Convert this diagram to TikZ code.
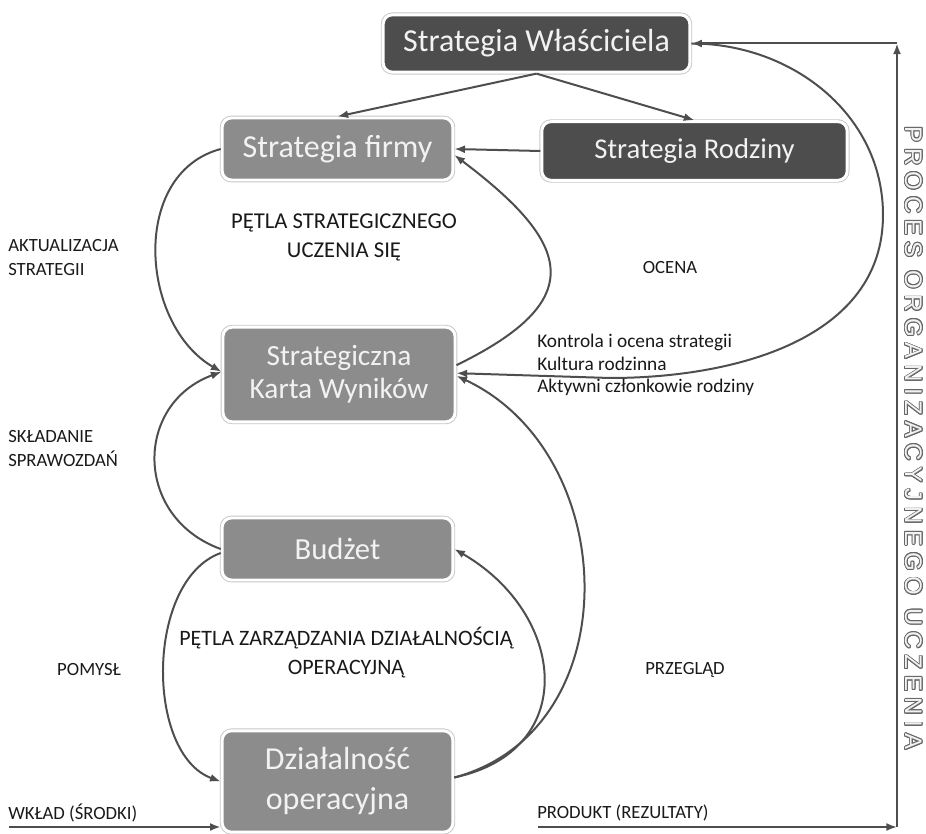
\documentclass[tikz,border=0pt]{standalone}
\usepackage{fontspec}
\setmainfont{Carlito}
\newfontfamily\procfont[LetterSpace=25]{Liberation Sans}
\usepackage{xcolor}
\usepackage{contour}
\usepackage{tikz}
\usetikzlibrary{arrows.meta,calc}
\definecolor{ciemny}{RGB}{77,77,77}
\definecolor{sredni}{RGB}{140,140,140}
\definecolor{linia}{RGB}{78,78,78}
\definecolor{jasny}{RGB}{242,242,242}
\contourlength{0.7pt}

\begin{document}
\begin{tikzpicture}[x=0.75pt,y=-0.75pt,
  blok/.style={rounded corners=7pt,draw=white,line width=2.2pt,text=jasny,align=center,inner sep=2pt,
    preaction={draw=black!22,line width=3.6pt}},
  pol/.style={draw=linia,line width=1.5pt,-{Latex[length=8pt,width=6pt]}},
  opis/.style={inner sep=0pt,text=black!90,font=\fontsize{14pt}{18pt}\selectfont}]
\useasboundingbox (0,0) rectangle (926,834);

% bloki
\node[blok,fill=ciemny,minimum width=230pt,minimum height=43pt,font=\fontsize{24pt}{28pt}\selectfont]
  (wl) at (536.5,43.5) {Strategia Właściciela};
\node[blok,fill=sredni,minimum width=173pt,minimum height=46.5pt,font=\fontsize{24pt}{28pt}\selectfont]
  (sf) at (337.5,149) {Strategia firmy};
\node[blok,fill=ciemny,minimum width=229pt,minimum height=44pt,font=\fontsize{21.5pt}{26pt}\selectfont]
  (sr) at (694.5,151) {Strategia Rodziny};
\node[blok,fill=sredni,minimum width=174pt,minimum height=71pt,font=\fontsize{22pt}{25pt}\selectfont]
  (kw) at (339,374.5) {Strategiczna\\Karta Wyników};
\node[blok,fill=sredni,minimum width=173pt,minimum height=46.5pt,font=\fontsize{23pt}{27pt}\selectfont]
  (bu) at (337.5,549) {Budżet};
\node[blok,fill=sredni,minimum width=173pt,minimum height=76pt,font=\fontsize{24pt}{30pt}\selectfont]
  (do) at (337.5,781.5) {Działalność\\operacyjna};

% punkty pomocnicze
\coordinate (ko) at (883,215);
\coordinate (kd) at (610,378);
\coordinate (pr) at (538,827);
\coordinate (rg) at (897,827);
\coordinate (gr) at (rg |- wl.east);
\coordinate (wk) at (9,827);

% strzalki
\draw[pol] (wl.south) -- (sf.north);
\draw[pol] (wl.south) -- (sr.north);
\draw[pol] (sr.west) -- (sf.east);
\draw[pol] (sf.west) to[out=195,in=150,looseness=1.08] ([yshift=2pt]kw.west);
\draw[pol] (bu.west) to[out=160,in=200,looseness=1.34] ([yshift=2pt]kw.west);
\draw[pol] ([yshift=-3pt]bu.west) to[out=200,in=160,looseness=0.9] (do.west);
\draw[pol] ([yshift=7pt]kw.east) to[out=26,in=-37,looseness=1.8] ([yshift=-4.5pt]sf.east);
\draw[pol] ([yshift=3pt]do.east) to[out=12,in=-30,looseness=1.45] (bu.east);
\draw[pol] ([yshift=3pt]do.east) to[out=15,in=-25,looseness=1.16] ([yshift=-1pt]kw.east);
\draw[pol] (wl.east) to[out=0,in=90] (ko) to[out=-90,in=0] (kd) -- ([yshift=1pt]kw.east);
\draw[pol] (pr) -- (rg);
\draw[pol] (rg) -- (gr);
\draw[pol] (gr) -- (wl.east);
\draw[pol] (wk) -- (wk -| do.west);

% opisy
\node[opis,anchor=west,align=left] (akt) at (8,257.5) {AKTUALIZACJA\\STRATEGII};
\node[opis,anchor=west,align=left] (skl) at (8,449) {SKŁADANIE\\SPRAWOZDAŃ};
\node[opis] (pom) at (89,670) {POMYSŁ};
\node[opis,align=center,font=\fontsize{17pt}{22pt}\selectfont] (ps) at (344,237.5) {PĘTLA STRATEGICZNEGO\\UCZENIA SIĘ};
\node[opis,align=center,font=\fontsize{16.5pt}{22pt}\selectfont] (pz) at (346,652.5) {PĘTLA ZARZĄDZANIA DZIAŁALNOŚCIĄ\\OPERACYJNĄ};
\node[opis] (oc) at (670,268) {OCENA};
\node[opis] (prz) at (685,670) {PRZEGLĄD};
\node[opis,anchor=west,align=left,font=\fontsize{14.5pt}{17pt}\selectfont] (kon) at (537,365)
  {Kontrola i ocena strategii\\Kultura rodzinna\\Aktywni członkowie rodziny};
\node[opis,anchor=west] (wkl) at (8,813) {WKŁAD (ŚRODKI)};
\node[opis,anchor=west] (pro) at (537,813) {PRODUKT (REZULTATY)};
\node[inner sep=0pt,rotate=-90,text=black!5,font=\procfont\fontsize{18pt}{20pt}\selectfont] (proc) at (913,438)
  {\contour{black!60}{PROCES ORGANIZACYJNEGO UCZENIA}};
\end{tikzpicture}
\end{document}
